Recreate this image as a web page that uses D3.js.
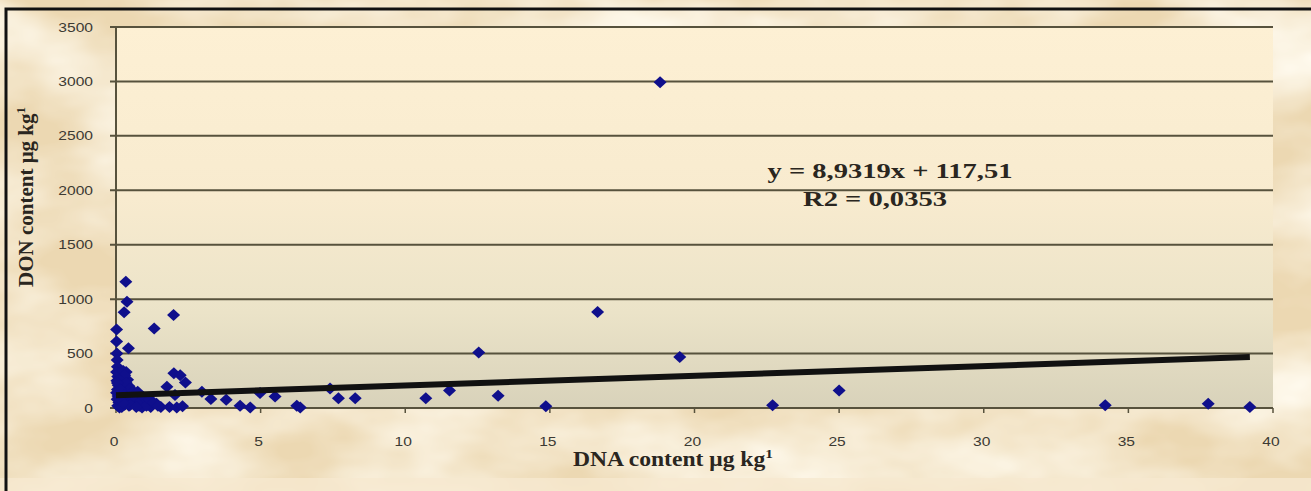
<html>
<head>
  <meta charset="utf8">
  <title>DON vs DNA</title>
  <style>
  * {
    margin: 0;
    padding: 0;
  }
  body {
    background: #efdcb8;
  }
  </style>
</head>
<body>
  <script src="https://cdn.jsdelivr.net/npm/d3@7"></script>
  <script>
  var w = 1311;
  var h = 491;

  // DNA content (x) and DON content (y)
  var dnaValues = [
    0.02, 0.02, 0.03, 0.04, 0.05, 0.02, 0.06, 0.03, 0.08, 0.05, 0.02, 0.07, 0.04, 0.1, 0.06, 0.12,
    0.15, 0.2, 0.18, 0.25, 0.22, 0.28, 0.15, 0.3, 0.2,
    0.34, 0.38, 0.28, 0.43, 0.35, 0.4, 0.45, 0.38, 0.42, 0.5, 0.45,
    0.6, 0.7, 0.65, 0.8, 0.9, 1.0, 1.1, 1.2, 1.32, 1.4, 1.55,
    1.76, 1.99, 2.0, 2.22, 2.4, 2.04, 1.85, 2.1, 2.3,
    2.97, 3.28, 3.81, 4.29, 4.64, 4.98, 5.5, 6.25, 6.37, 7.4, 7.69, 8.27,
    10.71, 11.53, 12.54, 13.21, 14.86, 16.65, 18.81, 19.49, 22.7, 25.0, 34.2, 37.76, 39.2,
    0.1, 0.25, 0.3, 0.12, 0.35, 0.5, 0.55, 0.6, 0.75, 0.85, 0.95,
    1.05, 1.15, 1.3, 1.45, 0.05, 0.15, 0.3, 0.5, 0.7, 0.25, 0.1
  ];
  var donValues = [
    720, 610, 500, 440, 380, 330, 290, 250, 210, 170, 140, 110, 80, 50, 20, 5,
    280, 230, 190, 150, 120, 90, 60, 30, 10,
    1160, 975, 880, 550, 330, 260, 200, 150, 100, 60, 20,
    120, 80, 40, 20, 5, 60, 30, 10, 730, 40, 10,
    195, 855, 320, 300, 235, 120, 10, 5, 15,
    150, 82, 75, 20, 5, 137, 105, 20, 5, 180, 90, 90,
    90, 160, 509, 112, 15, 882, 2992, 469, 25, 160, 25, 40, 10,
    320, 340, 300, 260, 230, 180, 140, 100, 150, 60, 100,
    20, 80, 50, 20, 230, 170, 120, 30, 10, 45, 95
  ];

  var xTicks = [0, 5, 10, 15, 20, 25, 30, 35, 40];
  var yTicks = [0, 500, 1000, 1500, 2000, 2500, 3000, 3500];

  // trendline
  var slope = 8.9319;
  var intercept = 117.51;
  var eqLines = ["y = 8,9319x + 117,51", "R2 = 0,0353"];

  var dataset = dnaValues.map(function(d, i) {
    return [d, donValues[i]];
  });

  var xScale = d3.scaleLinear().domain([0, 40]).range([116, 1273]);
  var yScale = d3.scaleLinear().domain([0, 3500]).range([408, 27]);

  var svg = d3.select("body")
    .append("svg")
    .attr("width", w)
    .attr("height", h);

  var defs = svg.append("defs");
  var paper = defs.append("filter").attr("id", "paper")
    .attr("x", 0).attr("y", 0).attr("width", "100%").attr("height", "100%");
  paper.append("feTurbulence")
    .attr("type", "fractalNoise")
    .attr("baseFrequency", "0.006 0.012")
    .attr("numOctaves", 4)
    .attr("seed", 7);
  paper.append("feColorMatrix")
    .attr("type", "matrix")
    .attr("values", "0 0 0 0 1  0 0 0 0 0.96  0 0 0 0 0.86  0 0 0 -1.8 1.25");

  var grad = defs.append("linearGradient").attr("id", "plotbg")
    .attr("x1", 0).attr("y1", 0).attr("x2", 0).attr("y2", 1);
  grad.append("stop").attr("offset", "0%").attr("stop-color", "#fdf0d4");
  grad.append("stop").attr("offset", "45%").attr("stop-color", "#f8ebcf");
  grad.append("stop").attr("offset", "75%").attr("stop-color", "#ebe3c8");
  grad.append("stop").attr("offset", "100%").attr("stop-color", "#d8d2ba");

  //Background
  svg.append("rect").attr("width", w).attr("height", h).attr("fill", "#ecd8b2");
  svg.append("rect").attr("width", w).attr("height", h).attr("filter", "url(#paper)");
  svg.append("rect").attr("x", 0).attr("y", 478).attr("width", w).attr("height", 13)
    .attr("fill", "#f6e9cf").attr("opacity", 0.8);
  // frame
  svg.append("path")
    .attr("d", "M6," + h + "V9H" + w)
    .attr("fill", "none")
    .attr("stroke", "#111")
    .attr("stroke-width", 3);

  //Plot area
  svg.append("rect")
    .attr("x", xScale(0))
    .attr("y", yScale(3500))
    .attr("width", xScale(40) - xScale(0))
    .attr("height", yScale(0) - yScale(3500))
    .attr("fill", "url(#plotbg)");

  //Gridlines
  svg.selectAll("line.grid")
    .data(yTicks)
    .enter()
    .append("line")
    .attr("class", "grid")
    .attr("x1", xScale(0) - 6)
    .attr("x2", xScale(40))
    .attr("y1", d => yScale(d))
    .attr("y2", d => yScale(d))
    .attr("stroke", "#57523d")
    .attr("stroke-width", 2);

  svg.append("line")
    .attr("x1", xScale(0)).attr("x2", xScale(0))
    .attr("y1", yScale(3500)).attr("y2", yScale(0))
    .attr("stroke", "#57523d")
    .attr("stroke-width", 2);

  //X ticks
  svg.selectAll("line.xtick")
    .data(xTicks)
    .enter()
    .append("line")
    .attr("class", "xtick")
    .attr("x1", d => xScale(d)).attr("x2", d => xScale(d))
    .attr("y1", yScale(0)).attr("y2", yScale(0) + 5)
    .attr("stroke", "#57523d")
    .attr("stroke-width", 1.5);

  //Tick labels
  svg.selectAll("text.ylab")
    .data(yTicks)
    .enter()
    .append("text")
    .attr("class", "ylab")
    .attr("transform", d => "translate(93," + (yScale(d) + 4.5) + ") scale(1.3,1)")
    .attr("text-anchor", "end")
    .attr("font-family", "Liberation Sans, Arial, sans-serif")
    .attr("font-size", "12px")
    .attr("fill", "#3c3a33")
    .text(d => d);

  svg.selectAll("text.xlab")
    .data(xTicks)
    .enter()
    .append("text")
    .attr("class", "xlab")
    .attr("transform", d => "translate(" + (xScale(d) - 2) + ",446) scale(1.3,1)")
    .attr("text-anchor", "middle")
    .attr("font-family", "Liberation Sans, Arial, sans-serif")
    .attr("font-size", "12px")
    .attr("fill", "#3c3a33")
    .text(d => d);

  //Points
  svg.selectAll("path.pt")
    .data(dataset)
    .enter()
    .append("path")
    .attr("class", "pt")
    .attr("d", "M0,-6L6.5,0L0,6L-6.5,0Z")
    .attr("transform", d => "translate(" + xScale(d[0]) + "," + yScale(d[1]) + ")")
    .attr("fill", "#0f0f8c");

  //Trendline
  var xMax = d3.max(dnaValues);
  svg.append("line")
    .attr("x1", xScale(0))
    .attr("y1", yScale(intercept))
    .attr("x2", xScale(xMax))
    .attr("y2", yScale(slope * xMax + intercept))
    .attr("stroke", "#111")
    .attr("stroke-width", 6);

  //Equation
  svg.selectAll("text.eq")
    .data(eqLines)
    .enter()
    .append("text")
    .attr("class", "eq")
    .attr("transform", (d, i) => "translate(" + (i ? 875 : 890) + "," + (178 + i * 28) + ") scale(1.36,1)")
    .attr("text-anchor", "middle")
    .attr("font-family", "Liberation Serif, Times New Roman, serif")
    .attr("font-weight", "bold")
    .attr("font-size", "21px")
    .attr("fill", "#2a2620")
    .text(d => d);

  //Axis titles
  var xt = svg.append("text")
    .attr("transform", "translate(673,466) scale(1.18,1)")
    .attr("text-anchor", "middle")
    .attr("font-family", "Liberation Serif, Times New Roman, serif")
    .attr("font-weight", "bold")
    .attr("font-size", "20px")
    .attr("fill", "#2a2620");
  xt.append("tspan").text("DNA content \u03bcg kg");
  xt.append("tspan").attr("font-size", "13px").attr("dy", -8).text("1");

  var yt = svg.append("text")
    .attr("transform", "translate(33,197) rotate(-90)")
    .attr("text-anchor", "middle")
    .attr("font-family", "Liberation Serif, Times New Roman, serif")
    .attr("font-weight", "bold")
    .attr("font-size", "21px")
    .attr("fill", "#2a2620");
  yt.append("tspan").text("DON content \u03bcg kg");
  yt.append("tspan").attr("font-size", "13px").attr("dy", -8).text("1");
  </script>
</body>
</html>
